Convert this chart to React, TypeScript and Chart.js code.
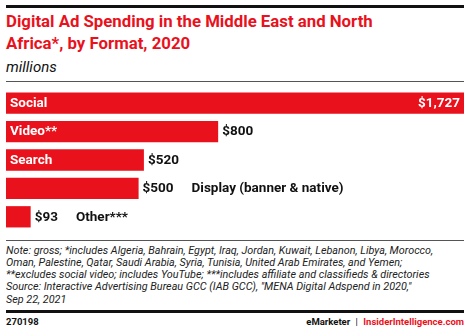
import React, { useEffect, useRef } from "react";
import { Chart, registerables } from "chart.js";

Chart.register(...registerables);

const categories = ["Social", "Video**", "Search", "Display (banner & native)", "Other***"];
const values = [1727, 800, 520, 500, 93];
const valueLabels = ["$1,727", "$800", "$520", "$500", "$93"];

const RED = "#e9111c";
const FONT = "Roboto, 'Liberation Sans', sans-serif";

const labelPlugin = {
  id: "barLabels",
  afterDatasetsDraw(chart: any) {
    const ctx = chart.ctx;
    const meta = chart.getDatasetMeta(0);
    const area = chart.chartArea;
    ctx.save();
    ctx.font = `bold 13.5px ${FONT}`;
    ctx.textBaseline = "middle";
    meta.data.forEach((bar: any, i: number) => {
      const left = bar.base;
      const right = bar.x;
      const y = bar.y + 0.5;
      const vl = valueLabels[i];
      const cl = categories[i];
      const vw = ctx.measureText(vl).width;
      const cw = ctx.measureText(cl).width;
      const valueInside = right + 4 + vw > area.right;
      const catInside = right - left > cw + 8 + (valueInside ? vw + 8 : 0);
      if (catInside) {
        ctx.fillStyle = "#ffffff";
        ctx.textAlign = "left";
        ctx.fillText(cl, left + 4, y);
      }
      let xEnd;
      if (valueInside) {
        ctx.fillStyle = "#ffffff";
        ctx.textAlign = "right";
        ctx.fillText(vl, right - 4, y);
        xEnd = right;
      } else {
        ctx.fillStyle = "#111111";
        ctx.textAlign = "left";
        ctx.fillText(vl, right + 4, y);
        xEnd = right + 4 + vw;
      }
      if (!catInside) {
        ctx.fillStyle = "#111111";
        ctx.textAlign = "left";
        ctx.fillText(cl, xEnd + 18, y);
      }
    });
    ctx.restore();
  },
};

export default function App() {
  const ref = useRef<HTMLCanvasElement>(null);
  useEffect(() => {
    if (!ref.current) return;
    const chart = new Chart(ref.current, {
      type: "bar",
      data: {
        labels: categories,
        datasets: [
          {
            data: values,
            backgroundColor: RED,
            borderWidth: 0,
            barPercentage: 0.75,
            categoryPercentage: 1,
          },
        ],
      },
      options: {
        indexAxis: "y",
        animation: false,
        responsive: false,
        maintainAspectRatio: false,
        layout: { padding: 0 },
        plugins: { legend: { display: false }, tooltip: { enabled: false } },
        scales: {
          x: { display: false, min: 0, max: 1727 },
          y: { display: false },
        },
      },
      plugins: [labelPlugin],
    });
    return () => chart.destroy();
  }, []);

  const noteStyle: React.CSSProperties = {
    position: "absolute",
    left: 6,
    fontFamily: FONT,
    fontStyle: "italic",
    fontSize: 10.8,
    color: "#222",
    whiteSpace: "nowrap",
    lineHeight: "12.3px",
  };

  return (
    <div style={{ position: "absolute", left: 0, top: 0, width: 471, height: 331, background: "#fff", overflow: "hidden" }}>
      <div style={{ position: "absolute", left: 6, top: 5, width: 458, height: 3, background: "#111" }} />
      <div
        style={{
          position: "absolute",
          left: 6,
          top: 11,
          fontFamily: FONT,
          fontWeight: 700,
          fontSize: 16.8,
          lineHeight: "21.5px",
          color: RED,
          whiteSpace: "nowrap",
        }}
      >
        Digital Ad Spending in the Middle East and North
        <br />
        Africa*, by Format, 2020
      </div>
      <div
        style={{
          position: "absolute",
          left: 6,
          top: 57,
          fontFamily: FONT,
          fontStyle: "italic",
          fontSize: 15,
          lineHeight: "20px",
          color: "#111",
        }}
      >
        millions
      </div>
      <div style={{ position: "absolute", left: 6, top: 81, width: 458, height: 1, background: "#555" }} />
      <canvas ref={ref} width={458} height={142} style={{ position: "absolute", left: 6, top: 89, width: 458, height: 142 }} />
      <div style={{ position: "absolute", left: 6, top: 240, width: 458, height: 1, background: "#555" }} />
      <div style={{ ...noteStyle, top: 244.5 }}>
        Note: gross; *includes Algeria, Bahrain, Egypt, Iraq, Jordan, Kuwait, Lebanon, Libya, Morocco,
        <br />
        Oman, Palestine, Qatar, Saudi Arabia, Syria, Tunisia, United Arab Emirates, and Yemen;
        <br />
        **excludes social video; includes YouTube; ***includes affiliate and classifieds &amp; directories
        <br />
        Source: Interactive Advertising Bureau GCC (IAB GCC), "MENA Digital Adspend in 2020,"
        <br />
        Sep 22, 2021
      </div>
      <div style={{ position: "absolute", left: 6, top: 310, width: 458, height: 3, background: "#111" }} />
      <div
        style={{
          position: "absolute",
          left: 6,
          top: 315,
          fontFamily: FONT,
          fontWeight: 700,
          fontSize: 9.5,
          lineHeight: "14px",
          color: "#111",
        }}
      >
        270198
      </div>
      <div
        style={{
          position: "absolute",
          right: 7,
          top: 315,
          fontFamily: FONT,
          fontWeight: 700,
          fontSize: 9.5,
          lineHeight: "14px",
          color: "#111",
          whiteSpace: "nowrap",
        }}
      >
        eMarketer <span style={{ fontWeight: 400, margin: "0 3px" }}>|</span>{" "}
        <span style={{ color: RED }}>InsiderIntelligence.com</span>
      </div>
    </div>
  );
}
